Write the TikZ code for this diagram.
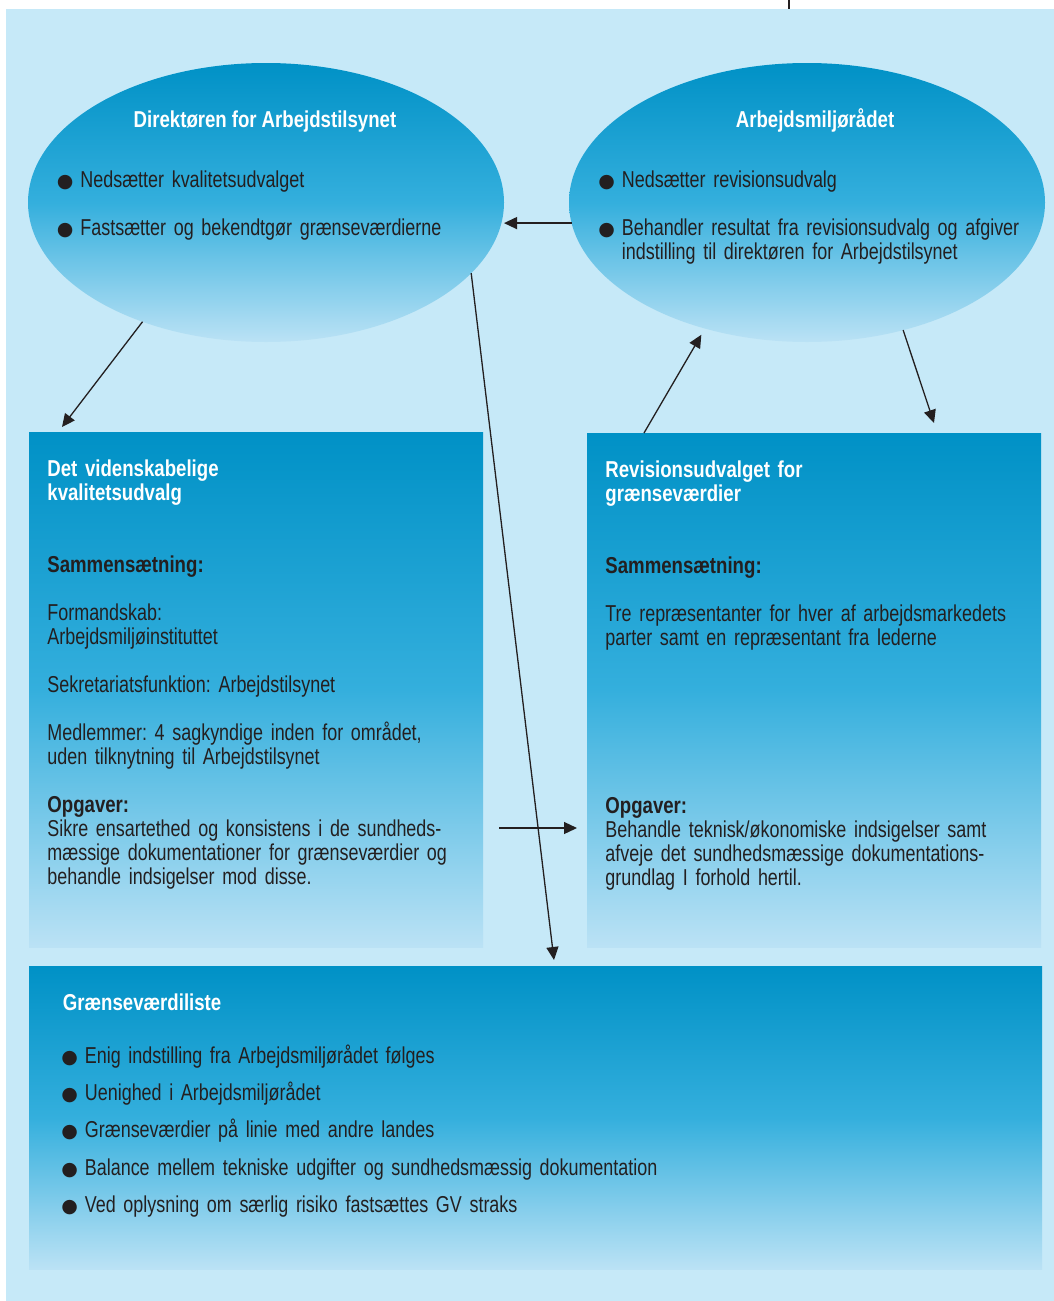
\documentclass[tikz,border=0pt]{standalone}
\usepackage{fontspec}
\setmainfont{Liberation Sans}[FakeStretch=0.78,BoldFeatures={FakeStretch=0.81}]
\newfontfamily\dotfont{DejaVu Sans}
\frenchspacing
\usepackage{tikz}
\usetikzlibrary{positioning,arrows.meta,calc,shapes.geometric}
\definecolor{panelBlue}{HTML}{C6E9F8}
\definecolor{deepCyan}{HTML}{0091C6}
\definecolor{midCyan}{HTML}{34AFDD}
\definecolor{paleCyan}{HTML}{BBE2F5}
\definecolor{inkText}{HTML}{231F20}

% round bullet in front of a list line
\newcommand{\blob}{\makebox[11pt][l]{\hspace*{-0.8pt}\fontsize{9.5pt}{12pt}\dotfont\char"25CF}}
% narrow type with tight word gaps
\newcommand{\narrowtype}{\fontsize{11.5pt}{12pt}\selectfont\spaceskip=2.5pt plus 0.5pt minus 0.3pt\relax}

\tikzset{
  oval/.style={ellipse,minimum width=238pt,minimum height=139.5pt,inner sep=0pt,outer sep=0pt,
    top color=deepCyan,bottom color=paleCyan,middle color=midCyan},
  pane/.style={rectangle,anchor=north west,inner sep=0pt,outer sep=0pt,
    top color=deepCyan,bottom color=paleCyan,middle color=midCyan},
  body/.style={inner sep=0pt,anchor=base west,text width=330pt,text=inkText,font=\narrowtype},
  head/.style={inner sep=0pt,anchor=base,text=white,font=\narrowtype\bfseries},
  flow/.style={draw=inkText,line width=0.65pt,-{Triangle[length=6.5pt,width=6pt]}}
}

\begin{document}
\begin{tikzpicture}[x=0.5pt,y=-0.5pt]
\fill[white] (0,0) rectangle (1054,1301);
\useasboundingbox (0,0) rectangle (1054,1301);
\node[fill=panelBlue,anchor=north west,inner sep=0pt,outer sep=0pt,
      minimum width=524pt,minimum height=646pt] (panel) at (6,9) {};
\coordinate (tick) at (789,0);
\draw[inkText,line width=0.65pt] (tick) -- (tick |- panel.north);

% the two councils
\node[oval] (dir) at (266,202.5) {};
\node[oval] (amr) at (807,202.5) {};
\node[head] (dirtitle) at (265,127.7) {Direktøren for Arbejdstilsynet};
\node[head] (amrtitle) at (815,127.7) {Arbejdsmiljørådet};
\node[body] (dirtxt) at (58,187) {%
\blob Nedsætter kvalitetsudvalget\\[12pt]
\blob Fastsætter og bekendtgør grænseværdierne};
\node[body] (amrtxt) at (599.5,187) {%
\blob Nedsætter revisionsudvalg\\[12pt]
\blob Behandler resultat fra revisionsudvalg og afgiver\\
\hspace*{11pt}indstilling til direktøren for Arbejdstilsynet};

% committees
\node[pane,minimum width=227pt,minimum height=257.5pt] (kval) at (29,432) {};
\node[pane,minimum width=227pt,minimum height=257pt] (rev) at (587,433) {};
\node[body] (kvaltxt) at (47,476) {%
\textcolor{white}{\bfseries Det videnskabelige}\\
\textcolor{white}{\bfseries kvalitetsudvalg}\\[24pt]
\textbf{Sammensætning:}\\[12pt]
Formandskab:\\
Arbejdsmiljøinstituttet\\[12pt]
Sekretariatsfunktion: Arbejdstilsynet\\[12pt]
Medlemmer: 4 sagkyndige inden for området,\\
uden tilknytning til Arbejdstilsynet\\[12pt]
\textbf{Opgaver:}\\
Sikre ensartethed og konsistens i de sundheds-\\
mæssige dokumentationer for grænseværdier og\\
behandle indsigelser mod disse.};
\node[body] (revtxt) at (605,477) {%
\textcolor{white}{\bfseries Revisionsudvalget for}\\
\textcolor{white}{\bfseries grænseværdier}\\[24pt]
\textbf{Sammensætning:}\\[12pt]
Tre repræsentanter for hver af arbejdsmarkedets\\
parter samt en repræsentant fra lederne\\[72pt]
\textbf{Opgaver:}\\
Behandle teknisk/økonomiske indsigelser samt\\
afveje det sundhedsmæssige dokumentations-\\
grundlag I forhold hertil.};

% resulting list
\node[pane,minimum width=506.5pt,minimum height=151.5pt] (gvl) at (29,966) {};
\node[body] (gvltxt) at (62.5,1010.7) {%
\textcolor{white}{\bfseries Grænseværdiliste}\\[14.2pt]
\blob Enig indstilling fra Arbejdsmiljørådet følges\\[6.7pt]
\blob Uenighed i Arbejdsmiljørådet\\[6.7pt]
\blob Grænseværdier på linie med andre landes\\[6.7pt]
\blob Balance mellem tekniske udgifter og sundhedsmæssig dokumentation\\[6.7pt]
\blob Ved oplysning om særlig risiko fastsættes GV straks};

% arrows
\coordinate (hand) at (499,828);
\draw[flow] (dir.224) -- ([xshift=16.5pt,yshift=2.5pt]kval.north west);
\draw[flow] (amr.185) -- (amr.185 -| dir.east);
\draw[flow] (dir.341) -- ([xshift=262.5pt,yshift=3pt]gvl.north west);
\draw[flow,shorten >=3.6pt] ([xshift=28.5pt]rev.north west) -- (amr.231);
\draw[flow] (amr.307) -- ([xshift=173.5pt,yshift=5pt]rev.north west);
\draw[flow] (hand) -- ([xshift=-5pt]hand -| rev.west);
\end{tikzpicture}
\end{document}
